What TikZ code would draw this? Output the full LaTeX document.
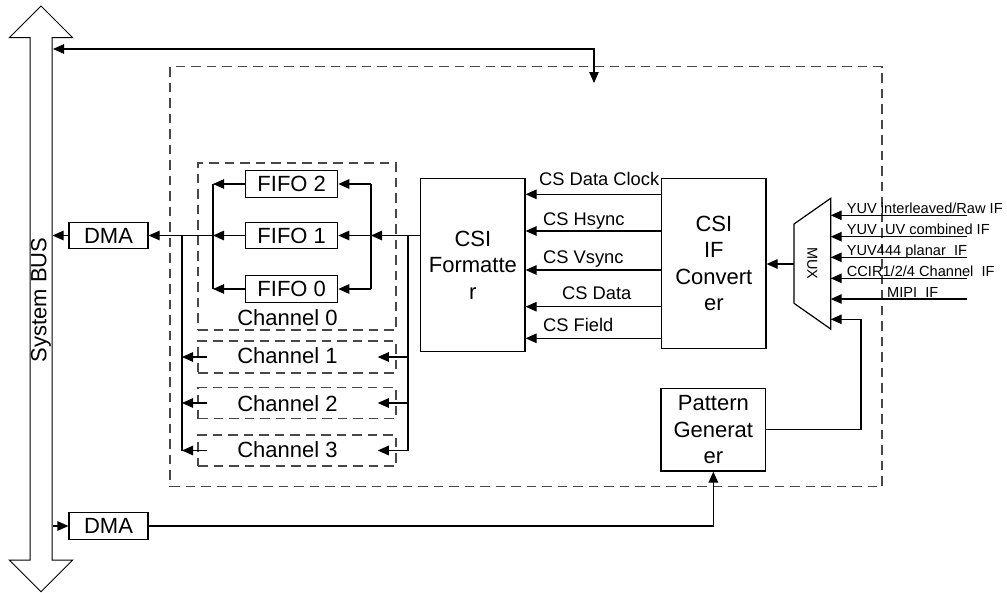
\documentclass[tikz,border=0pt]{standalone}
\usepackage{fontspec}
\setmainfont{Liberation Sans}
\usetikzlibrary{arrows.meta}
\begin{document}
\begin{tikzpicture}[x=1pt,y=-1pt,
  box/.style={draw, line width=1.2pt, inner sep=0pt, font=\fontsize{22}{26.5}\selectfont, align=center},
  dbox/.style={draw=black!72, line width=1.5pt, dash pattern=on 9.5pt off 6pt, inner sep=0pt},
  ln/.style={line width=1.2pt},
  arr/.style={-{Triangle[length=11pt,width=9.5pt]}, line width=1.2pt},
  darr/.style={{Triangle[length=11pt,width=9.5pt]}-{Triangle[length=11pt,width=9.5pt]}, line width=1.2pt},
  big/.style={font=\fontsize{22}{26.5}\selectfont, inner sep=0pt},
  lbl/.style={font=\fontsize{18.3}{20}\selectfont, inner sep=0pt, anchor=base west},
  ilbl/.style={font=\fontsize{14.6}{16}\selectfont, inner sep=0pt, anchor=base west},
]
\useasboundingbox (0,0) rectangle (1007,592);

% system bus
\draw[line width=1pt] (41,6) -- (72.7,37.7) -- (52,37.7) -- (52,560) -- (72.7,560) -- (41,591.7) -- (9.3,560) -- (30,560) -- (30,37.7) -- (9.3,37.7) -- cycle;
\node[big, rotate=90] (busl) at (41,300) {System BUS};

% outer dashed box
\node[dbox, minimum width=712pt, minimum height=420pt] (outer) at (526,276.7) {};

% channel boxes
\node[dbox, minimum width=198pt, minimum height=167pt] (ch0) at (297,246.5) {};
\node[dbox, minimum width=198pt, minimum height=31.7pt] (ch1) at (297,357) {};
\node[dbox, minimum width=198pt, minimum height=31pt] (ch2) at (297,403) {};
\node[dbox, minimum width=198pt, minimum height=31pt] (ch3) at (297,450.5) {};
\node[big, anchor=base] (ch0l) at (287.5,325) {Channel 0};
\node[big, anchor=base] (ch1l) at (287.5,363.3) {Channel 1};
\node[big, anchor=base] (ch2l) at (287.5,411.5) {Channel 2};
\node[big, anchor=base] (ch3l) at (287.5,457.3) {Channel 3};

% fifos
\node[box, minimum width=92pt, minimum height=26.6pt] (fifo2) at (291.7,184) {FIFO 2};
\node[box, minimum width=92pt, minimum height=26.6pt] (fifo1) at (291.7,235.5) {FIFO 1};
\node[box, minimum width=92pt, minimum height=26.6pt] (fifo0) at (291.7,289) {FIFO 0};

% DMAs
\node[box, minimum width=79pt, minimum height=26.6pt] (dma1) at (108.5,235.5) {DMA};
\node[box, minimum width=79pt, minimum height=26.6pt] (dma2) at (108.5,526) {DMA};

% main blocks
\node[box, minimum width=104.3pt, minimum height=172.6pt] (fmt) at (472.85,265) {CSI\\Formatte\\r};
\node[box, minimum width=104.3pt, minimum height=169.6pt] (conv) at (713.85,263.5) {CSI\\IF\\Convert\\er};
\node[box, minimum width=104.7pt, minimum height=82.7pt] (pat) at (713.35,429.65) {Pattern\\Generat\\er};

% MUX
\coordinate (muxTL) at (794,224);
\coordinate (muxBL) at (794,303.3);
\coordinate (muxTR) at (830.7,198.3);
\coordinate (muxBR) at (830.7,329);
\draw[ln] (muxTL) -- (muxTR) -- (muxBR) -- (muxBL) -- cycle;
\node[font=\fontsize{14.5}{16}\selectfont, rotate=-90, inner sep=0pt] (muxl) at (812.3,263.3) {MUX};

% coordinates
\coordinate (busT) at (53,49);
\coordinate (topdn) at (594,83);
\coordinate (busR1) at (52.5,235.5);
\coordinate (busR2) at (52.5,526);
\coordinate (inR) at (371,235.5);
\coordinate (chR) at (408,235.5);
\coordinate (outL) at (213,235.5);
\coordinate (chL) at (182,235.5);
\coordinate (mout) at (794,264);
\coordinate (m6) at (830.7,319.3);

% top bus connection
\draw[darr] (busT) -| (topdn);

% DMA to bus
\draw[arr] (dma1.west) -- (busR1);
\draw[arr] (busR2) -- (dma2.west);
\draw[arr] (dma2.east) -| (pat.south);

% formatter to fifos / channels
\draw[arr] (fmt.west |- inR) -- (inR);
\draw[ln] (inR |- fifo2) -- (inR |- fifo0);
\draw[arr] (inR |- fifo2) -- (fifo2.east);
\draw[arr] (inR) -- (fifo1.east);
\draw[arr] (inR |- fifo0) -- (fifo0.east);
\draw[ln] (chR) -- (chR |- ch3);
\draw[arr] (chR |- ch1) -- ([xshift=-19pt]ch1.east);
\draw[arr] (chR |- ch2) -- ([xshift=-19pt]ch2.east);
\draw[arr] (chR |- ch3) -- ([xshift=-19pt]ch3.east);

% fifos / channels to DMA
\draw[arr] (fifo2.west) -- (outL |- fifo2);
\draw[arr] (fifo1.west) -- (outL);
\draw[arr] (fifo0.west) -- (outL |- fifo0);
\draw[ln] (outL |- fifo2) -- (outL |- fifo0);
\draw[arr] (outL) -- (dma1.east);
\draw[ln] (chL) -- (chL |- ch3);
\draw[arr] ([xshift=10pt]ch1.west) -- (chL |- ch1);
\draw[arr] ([xshift=10pt]ch2.west) -- (chL |- ch2);
\draw[arr] ([xshift=10pt]ch3.west) -- (chL |- ch3);

% converter to formatter
\coordinate (s1) at (661.7,194.3);
\coordinate (s2) at (661.7,231);
\coordinate (s3) at (661.7,270);
\coordinate (s4) at (661.7,306.7);
\coordinate (s5) at (661.7,338.3);
\draw[arr] (s1) -- (fmt.east |- s1);
\draw[arr] (s2) -- (fmt.east |- s2);
\draw[arr] (s3) -- (fmt.east |- s3);
\draw[arr] (s4) -- (fmt.east |- s4);
\draw[arr] (s5) -- (fmt.east |- s5);
\node[lbl] (l1) at (539,185) {CS Data Clock};
\node[lbl] (l2) at (543,225) {CS Hsync};
\node[lbl] (l3) at (543,263.3) {CS Vsync};
\node[lbl] (l4) at (562,299.3) {CS Data};
\node[lbl] (l5) at (543,331) {CS Field};

% mux to converter
\draw[arr] (mout) -- (conv.east |- mout);

% inputs
\coordinate (i1) at (967,215.3);
\coordinate (i2) at (967,236.7);
\coordinate (i3) at (967,257.3);
\coordinate (i4) at (967,278.3);
\coordinate (i5) at (967,299);
\draw[arr] (i1) -- (muxTR |- i1);
\draw[arr] (i2) -- (muxTR |- i2);
\draw[arr] (i3) -- (muxTR |- i3);
\draw[arr] (i4) -- (muxTR |- i4);
\draw[arr] (i5) -- (muxTR |- i5);
\node[ilbl] (t1) at (846.7,213.3) {YUV interleaved/Raw IF};
\node[ilbl] (t2) at (846.7,234.5) {YUV\ \ UV combined IF};
\node[ilbl] (t3) at (846.7,255) {YUV444 planar\ \ IF};
\node[ilbl] (t4) at (846.7,276) {CCIR1/2/4 Channel\ \ IF};
\node[ilbl] (t5) at (887,297) {MIPI\ \ IF};

% pattern generator to mux
\draw[arr] (pat.east) -| ([xshift=30.3pt]m6) -- (m6);
\end{tikzpicture}
\end{document}
